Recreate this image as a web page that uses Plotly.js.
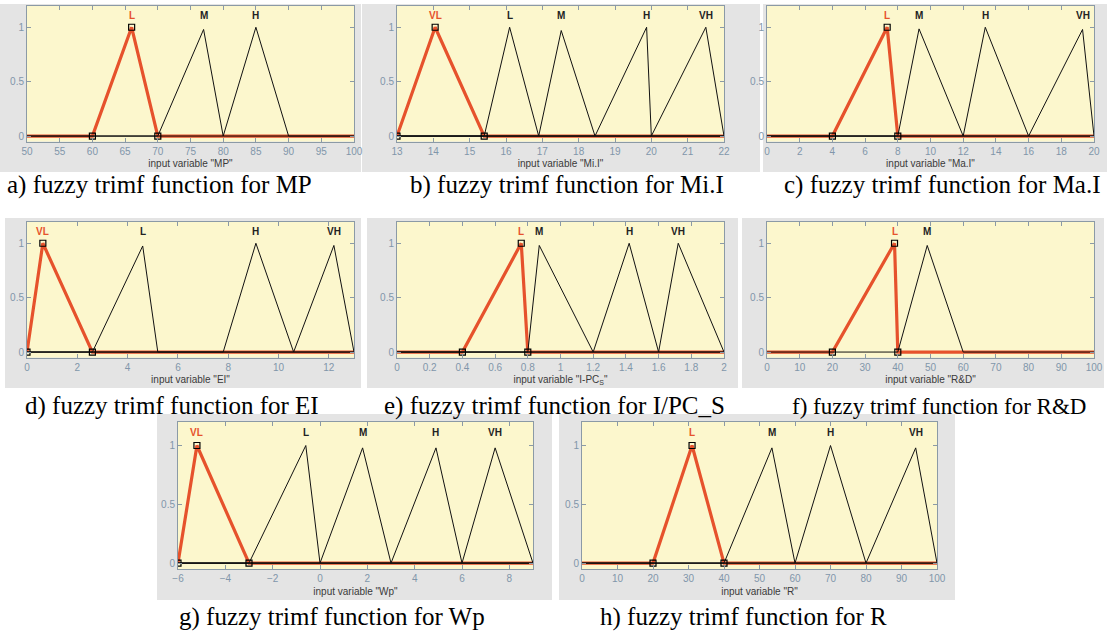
<!DOCTYPE html>
<html>
<head>
<meta charset="utf-8">
<script src="https://cdn.plot.ly/plotly-3.0.1.min.js"></script>
<style>html,body{margin:0;padding:0;background:#fff;}#chart{width:1107px;height:632px;}</style>
</head>
<body>
<div id="chart"></div>
<script>
// ---------------- DATA ----------------
// a) MP
const mpRange = [50, 100];
const mpNames = ["L", "M", "H"];
const mpParams = [[60, 66, 70], [70, 77, 80], [80, 85, 90]];
const mpPeaks = [1, 0.98, 1];
// b) Mi.I
const miRange = [13, 22];
const miNames = ["VL", "L", "M", "H", "VH"];
const miParams = [[13, 14.05, 15.4], [15.4, 16.1, 16.9], [16.9, 17.52, 18.45], [18.45, 19.87, 20], [20, 21.5, 22]];
const miPeaks = [1, 1, 0.97, 1, 1];
// c) Ma.I
const maRange = [0, 20];
const maNames = ["L", "M", "H", "VH"];
const maParams = [[4, 7.35, 8], [8, 9.3, 12], [12, 13.35, 16], [16, 19.3, 20]];
const maPeaks = [1, 0.985, 1, 0.98];
// d) EI
const eiRange = [0, 13];
const eiNames = ["VL", "L", "H", "VH"];
const eiParams = [[0, 0.63, 2.6], [2.6, 4.6, 5.2], [7.8, 9.1, 10.6], [10.6, 12.2, 13]];
const eiPeaks = [1, 0.975, 1, 0.98];
// e) I-PC_S
const ipRange = [0, 2];
const ipNames = ["L", "M", "H", "VH"];
const ipParams = [[0.4, 0.76, 0.8], [0.8, 0.87, 1.2], [1.2, 1.42, 1.6], [1.6, 1.72, 2]];
const ipPeaks = [1, 0.98, 1, 1];
// f) R&D
const rdRange = [0, 100];
const rdNames = ["L", "M"];
const rdParams = [[20, 39, 40], [40, 49, 60]];
const rdPeaks = [1, 0.98];
// g) Wp
const wpRange = [-6, 9];
const wpNames = ["VL", "L", "M", "H", "VH"];
const wpParams = [[-6, -5.2, -3], [-3, -0.6, 0], [0, 1.8, 3], [3, 4.9, 6], [6, 7.4, 9]];
const wpPeaks = [1, 1, 0.98, 0.98, 0.98];
// h) R
const rRange = [0, 100];
const rNames = ["L", "M", "H", "VH"];
const rParams = [[20, 31, 40], [40, 53.5, 60], [60, 70, 80], [80, 94, 100]];
const rPeaks = [1, 0.98, 1, 0.98];

const xTickSteps = [5, 1, 2, 2, 0.2, 10, 2, 10];
const varLabels = ['MP', 'Mi.I', 'Ma.I', 'EI', 'I-PC<sub>S</sub>', 'R&D', 'Wp', 'R'];
const captions = [
  'a) fuzzy trimf function for MP',
  'b) fuzzy trimf function for Mi.I',
  'c) fuzzy trimf function for Ma.I',
  'd) fuzzy trimf function for EI',
  'e) fuzzy trimf function for I/PC_S',
  'f) fuzzy trimf function for R&D',
  'g) fuzzy trimf function for Wp',
  'h) fuzzy trimf function for R'
];
const yTicks = [0, 0.5, 1];
const yTickText = ['0', '0.5', '1'];

// ---------------- LAYOUT / STYLE ----------------
const W = 1107, H = 632;
const panels = [
  {range: mpRange, names: mpNames, params: mpParams, peaks: mpPeaks, box: [27, 354, 5.5, 141.5], cap: [5, 185, 'left', 25]},
  {range: miRange, names: miNames, params: miParams, peaks: miPeaks, box: [397, 724, 5.5, 141.5], cap: [408, 185, 'left', 25]},
  {range: maRange, names: maNames, params: maParams, peaks: maPeaks, box: [767, 1094, 5.5, 141.5], cap: [1103, 185, 'right', 25]},
  {range: eiRange, names: eiNames, params: eiParams, peaks: eiPeaks, box: [27, 354, 221.5, 357.5], cap: [23, 406, 'left', 25]},
  {range: ipRange, names: ipNames, params: ipParams, peaks: ipPeaks, box: [397, 724, 221.5, 357.5], cap: [382, 406, 'left', 25]},
  {range: rdRange, names: rdNames, params: rdParams, peaks: rdPeaks, box: [767, 1094, 221.5, 357.5], cap: [790, 406, 'left', 23]},
  {range: wpRange, names: wpNames, params: wpParams, peaks: wpPeaks, box: [178, 533, 422, 569], cap: [177, 617, 'left', 25]},
  {range: rRange, names: rNames, params: rParams, peaks: rPeaks, box: [582, 937, 422, 569], cap: [598, 617, 'left', 25]}
];
const grayBoxes = [
  [0, 361, 4, 172], [362, 760, 4, 172], [763, 1107, 4, 172],
  [5, 361, 218, 388], [367, 738, 218, 388], [742, 1104, 218, 388],
  [157, 552, 414, 600], [559, 955, 414, 600]
];

const RED = '#e6522c', BLACK = '#111111', AXC = '#8b9aa6', TICKC = '#8196aa';
const YELLOW = '#fcf7cd', GRAY = '#e4e4e4';

const traces = [];
const layout = {
  width: W, height: H,
  margin: {l: 0, r: 0, t: 0, b: 0},
  paper_bgcolor: '#ffffff',
  plot_bgcolor: 'rgba(0,0,0,0)',
  showlegend: false,
  shapes: [],
  annotations: []
};

grayBoxes.forEach(g => {
  layout.shapes.push({type: 'rect', xref: 'paper', yref: 'paper', layer: 'below',
    x0: g[0] / W, x1: g[1] / W, y0: 1 - g[3] / H, y1: 1 - g[2] / H,
    fillcolor: GRAY, line: {width: 0}});
});

panels.forEach((p, i) => {
  const n = i + 1;
  const xa = 'x' + (n === 1 ? '' : n), ya = 'y' + (n === 1 ? '' : n);
  const xk = 'xaxis' + (n === 1 ? '' : n), yk = 'yaxis' + (n === 1 ? '' : n);
  const [bx0, bx1, by0, by1] = p.box;
  layout[xk] = {
    domain: [bx0 / W, bx1 / W], anchor: ya, range: p.range,
    tick0: p.range[0], dtick: xTickSteps[i],
    ticks: 'inside', ticklen: 4, tickcolor: AXC, showline: true, linecolor: AXC, linewidth: 1,
    mirror: 'ticks', showgrid: false, zeroline: false, fixedrange: true,
    tickfont: {family: 'Liberation Sans, Arial', size: 10, color: TICKC},
    title: {text: 'input variable "' + varLabels[i] + '"', standoff: 4,
      font: {family: 'Liberation Sans, Arial', size: 10, color: '#3a3a3a'}}
  };
  layout[yk] = {
    domain: [1 - by1 / H, 1 - by0 / H], anchor: xa, range: [-0.05, 1.2],
    tickvals: yTicks, ticktext: yTickText,
    ticks: 'inside', ticklen: 4, tickcolor: AXC, showline: true, linecolor: AXC, linewidth: 1,
    mirror: 'ticks', showgrid: false, zeroline: false, fixedrange: true,
    tickfont: {family: 'Liberation Sans, Arial', size: 10, color: TICKC}
  };
  // yellow plotting area
  layout.shapes.push({type: 'rect', xref: xa + ' domain', yref: ya + ' domain', layer: 'below',
    x0: 0, x1: 1, y0: 0, y1: 1, fillcolor: YELLOW, line: {width: 0}});

  // selected MF (first one) in red
  const sel = 0;
  const sp = p.params[sel];
  traces.push({type: 'scatter', mode: 'lines', xaxis: xa, yaxis: ya, hoverinfo: 'skip',
    x: [p.range[0], sp[0], sp[1], sp[2], p.range[1]], y: [0, 0, p.peaks[sel], 0, 0],
    line: {color: RED, width: 3.2}});
  // other MFs in black
  p.params.forEach((q, k) => {
    if (k === sel) return;
    traces.push({type: 'scatter', mode: 'lines', xaxis: xa, yaxis: ya, hoverinfo: 'skip',
      x: [p.range[0], q[0], q[1], q[2], p.range[1]], y: [0, 0, p.peaks[k], 0, 0],
      line: {color: BLACK, width: 1}});
  });
  // vertex squares of selected MF
  traces.push({type: 'scatter', mode: 'markers', xaxis: xa, yaxis: ya, hoverinfo: 'skip',
    x: [sp[0], sp[1], sp[2]], y: [0, 1, 0],
    marker: {symbol: 'square-open', size: 6, color: '#000', line: {width: 1.2, color: '#000'}}});

  // MF names
  p.params.forEach((q, k) => {
    layout.annotations.push({xref: xa, yref: ya, x: q[1], y: 1.11, showarrow: false,
      text: '<b>' + p.names[k] + '</b>', xanchor: 'center', yanchor: 'middle',
      font: {family: 'Liberation Sans, Arial', size: 10, color: k === sel ? RED : '#222'}});
  });
  // caption
  layout.annotations.push({xref: 'paper', yref: 'paper', x: p.cap[0] / W, y: 1 - p.cap[1] / H,
    xanchor: p.cap[2], yanchor: 'middle', showarrow: false, text: captions[i],
    font: {family: 'Liberation Serif, Times New Roman, serif', size: p.cap[3], color: '#000'}});
});

Plotly.newPlot('chart', traces, layout, {staticPlot: true, displayModeBar: false});
</script>
</body>
</html>
